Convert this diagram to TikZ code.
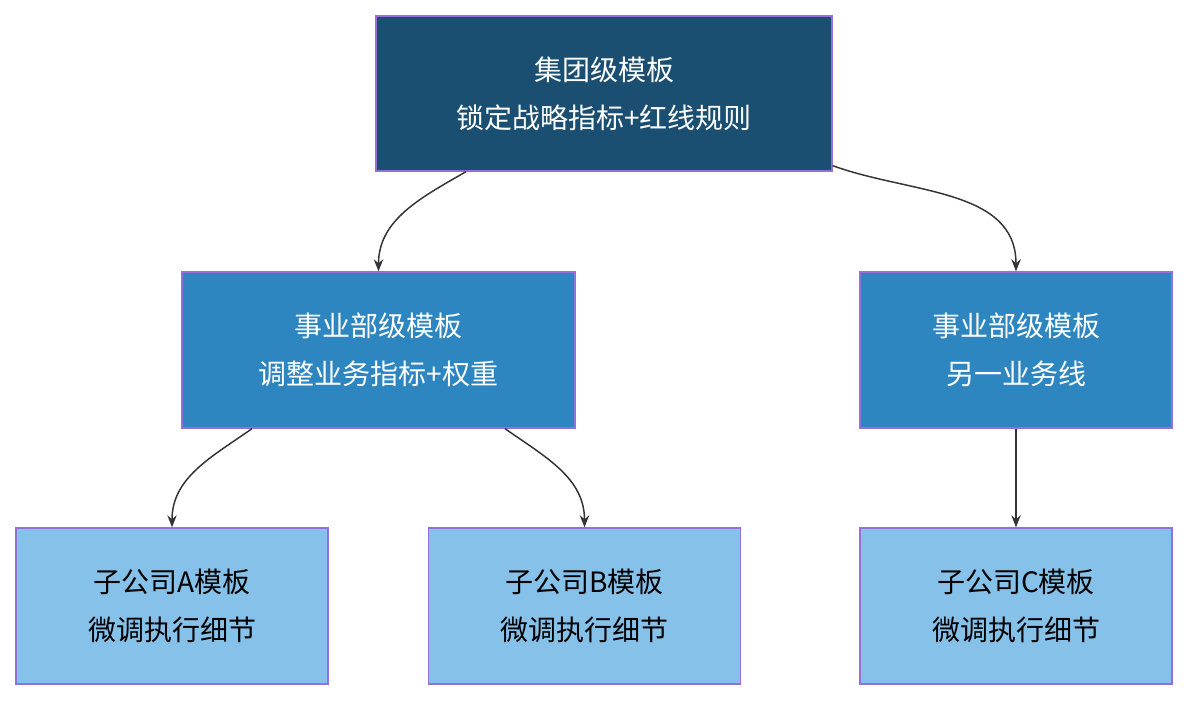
\documentclass[tikz,border=0pt]{standalone}
\usepackage{fontspec}
\setmainfont{Noto Sans CJK SC}
\usetikzlibrary{arrows.meta,calc}
\definecolor{lvtop}{HTML}{1B4F72}
\definecolor{lvmid}{HTML}{2E86C1}
\definecolor{lvsub}{HTML}{85C1E9}
\definecolor{edgeline}{HTML}{9370DB}
\definecolor{linkgray}{HTML}{333333}
\tikzset{every picture/.style={line width=0.75pt}}
\tikzset{
  tpl/.style={draw=edgeline, line width=1pt, align=center, inner sep=0pt,
    font=\fontsize{21}{36}\selectfont},
  link/.style={draw=linkgray, line width=1.1pt, -{Stealth[length=9pt,width=7pt]}}
}
\begin{document}
\begin{tikzpicture}[x=0.75pt,y=0.75pt]
\useasboundingbox (0,0) rectangle (1188,700);

% Text Node
\node (grp) [tpl, fill=lvtop, text=white, minimum width=456*0.75pt, minimum height=155*0.75pt] at (604,606.5) {集团级模板\\锁定战略指标+红线规则};
% Text Node
\node (divA) [tpl, fill=lvmid, text=white, minimum width=393*0.75pt, minimum height=156*0.75pt] at (378.5,350) {事业部级模板\\调整业务指标+权重};
% Text Node
\node (divB) [tpl, fill=lvmid, text=white, minimum width=312*0.75pt, minimum height=156*0.75pt] at (1016,350) {事业部级模板\\另一业务线};
% Text Node
\node (subA) [tpl, fill=lvsub, minimum width=312*0.75pt, minimum height=156*0.75pt] at (172,94) {子公司A模板\\微调执行细节};
% Text Node
\node (subB) [tpl, fill=lvsub, minimum width=312*0.75pt, minimum height=156*0.75pt] at (584.5,94) {子公司B模板\\微调执行细节};
% Text Node
\node (subC) [tpl, fill=lvsub, minimum width=312*0.75pt, minimum height=156*0.75pt] at (1016,94) {子公司C模板\\微调执行细节};

%Curve Lines
\draw [link] ($(grp.south)+(-138,0)$) to[out=-150,in=90] (divA.north);
\draw [link] ($(grp.south east)+(0,6)$) to[out=-20,in=90] (divB.north);
\draw [link] ($(divA.south)+(-126.5,0)$) to[out=-145,in=90] (subA.north);
\draw [link] ($(divA.south)+(126.5,0)$) to[out=-35,in=90] (subB.north);
%Straight Lines
\draw [link] (divB) -- (subC);
\end{tikzpicture}
\end{document}
